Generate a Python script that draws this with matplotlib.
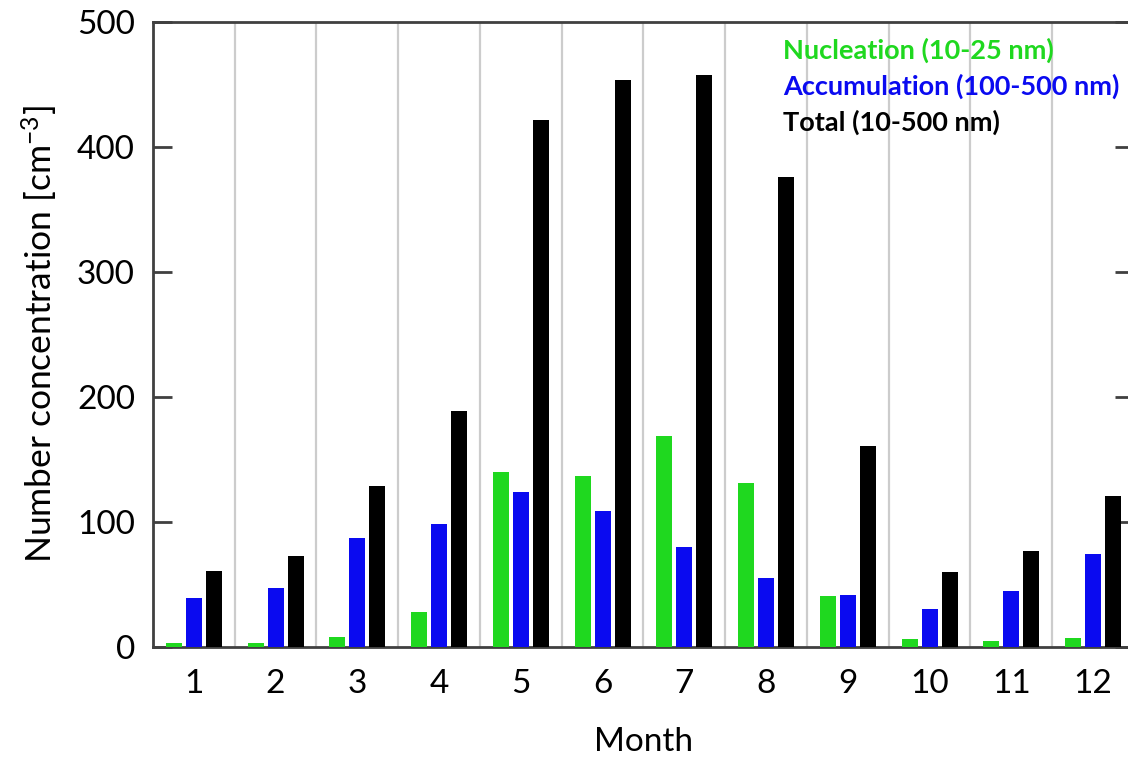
import matplotlib
matplotlib.use("Agg")
import matplotlib.pyplot as plt
import numpy as np

plt.rcParams['font.family'] = ['Lato', 'DejaVu Sans']
plt.rcParams['mathtext.default'] = 'regular'

# monthly mean number concentrations [cm-3]
months = [1, 2, 3, 4, 5, 6, 7, 8, 9, 10, 11, 12]
nucleation = [3, 3, 8, 28, 140, 137, 169, 131, 41, 6, 5, 7]
accumulation = [39.5, 47.5, 87, 98, 124, 109, 80, 55, 41.5, 30, 45, 74.5]
total = [60.5, 73, 129, 189, 422, 454, 458, 376, 161, 60, 77, 120.5]

c_nuc = '#1fd81f'
c_acc = '#0a0af0'
c_tot = '#000000'

fig = plt.figure(figsize=(11.28, 7.59), dpi=100)
ax = fig.add_axes([0.1356, 0.1476, 0.8697, 0.8234])

x = np.array(months)
w = 0.196
off = 0.245
ax.bar(x - off, nucleation, w, color=c_nuc, zorder=3)
ax.bar(x, accumulation, w, color=c_acc, zorder=3)
ax.bar(x + off, total, w, color=c_tot, zorder=3)

# separators between months
for b in np.arange(1.5, 12.5, 1):
    ax.axvline(b, color='#cccccc', lw=1.6, zorder=1)

ax.set_xlim(0.5, 12.5)
ax.set_ylim(0, 500)
ax.set_xticks(months)
ax.set_yticks([0, 100, 200, 300, 400, 500])
ax.tick_params(axis='x', length=0, pad=16, labelsize=24)
ax.tick_params(axis='y', direction='in', length=14, width=2, color='#404040',
               labelsize=24, pad=13, right=True)
for s in ax.spines.values():
    s.set_color('#404040')
    s.set_linewidth(2)

ax.set_xlabel('Month', fontsize=24, labelpad=20)
ax.set_ylabel('Number concentration [cm$^{-3}$]', fontsize=25.5, labelpad=12)

# legend written as coloured labels
labels = ['Nucleation (10-25 nm)', 'Accumulation (100-500 nm)', 'Total (10-500 nm)']
colors = [c_nuc, c_acc, c_tot]
for i, (t, c) in enumerate(zip(labels, colors)):
    ax.text(0.642, 0.955 - i * 0.058, t, color=c, fontsize=19.5, fontweight='bold',
            transform=ax.transAxes, va='center', ha='left')

fig.savefig('out.png', dpi=100)
